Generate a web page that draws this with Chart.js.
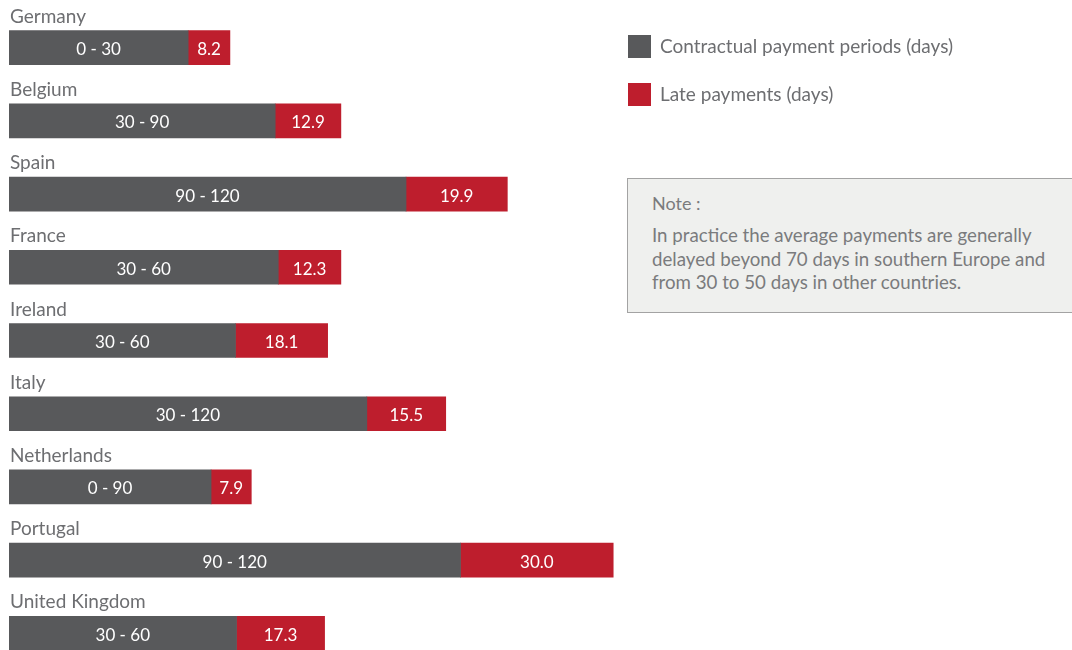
<!DOCTYPE html>
<html>
<head>
<meta charset="utf-8">
<script src="https://cdn.jsdelivr.net/npm/chart.js@4.4.1/dist/chart.umd.min.js"></script>
<style>
  html, body { margin: 0; padding: 0; background: #ffffff; overflow: hidden; }
  body { width: 1072px; height: 650px; position: relative; font-family: Lato, "Open Sans", sans-serif; }
  #wrap { position: absolute; left: 0; top: 0; width: 630px; height: 672px; }
  .legend { position: absolute; left: 628px; font-size: 19px; color: #6d6e71; }
  .legend .sw { position: absolute; left: 0; top: 0; width: 23px; height: 23px; }
  .legend .tx { position: absolute; left: 32px; top: -1px; white-space: nowrap; line-height: 23px; }
  #note { position: absolute; left: 627px; top: 178px; width: 460px; height: 135px;
          background: #eff0ee; border: 1.5px solid #a3a3a3; box-sizing: border-box;
          color: #7a7b7d; font-size: 18.7px; }
  #note .hd { position: absolute; left: 24px; top: 13px; font-size: 18px; }
  #note .bd { position: absolute; left: 24px; top: 45px; line-height: 23.5px; width: 430px; white-space: nowrap; }
</style>
</head>
<body>
<div id="wrap"><canvas id="chart"></canvas></div>

<div class="legend" style="top:35px"><div class="sw" style="background:#58595b"></div><div class="tx">Contractual payment periods (days)</div></div>
<div class="legend" style="top:83px"><div class="sw" style="background:#be1e2d"></div><div class="tx">Late payments (days)</div></div>

<div id="note">
  <div class="hd">Note :</div>
  <div class="bd">In practice the average payments are generally<br>delayed beyond 70 days in southern Europe and<br>from 30 to 50 days in other countries.</div>
</div>

<script>
// Countries, top to bottom
const countries = ["Germany", "Belgium", "Spain", "France", "Ireland", "Italy", "Netherlands", "Portugal", "United Kingdom"];
// Contractual payment period ranges (text shown inside the grey bars)
const contractLabels = ["0 - 30", "30 - 90", "90 - 120", "30 - 60", "30 - 60", "30 - 120", "0 - 90", "90 - 120", "30 - 60"];
// Length of the grey bars (days)
const contractDays = [35.2, 52.3, 78.0, 52.9, 44.5, 70.3, 39.7, 88.7, 44.7];
// Late payments (days)
const lateDays = [8.2, 12.9, 19.9, 12.3, 18.1, 15.5, 7.9, 30.0, 17.3];

const GREY = "#58595b";
const RED = "#be1e2d";
const FONT = "Lato, 'Open Sans', sans-serif";

// Writes the value text in the middle of each bar segment
const barText = {
  id: "barText",
  afterDatasetsDraw(chart) {
    const ctx = chart.ctx;
    ctx.save();
    ctx.fillStyle = "#ffffff";
    ctx.font = "17px " + FONT;
    ctx.textAlign = "center";
    ctx.textBaseline = "middle";
    chart.data.datasets.forEach((ds, di) => {
      const meta = chart.getDatasetMeta(di);
      meta.data.forEach((el, i) => {
        const txt = di === 0 ? contractLabels[i] : ds.data[i].toFixed(1);
        ctx.fillText(txt, (el.x + el.base) / 2, el.y + 2);
      });
    });
    ctx.restore();
  }
};

// Country names sit above their bars
const countryNames = {
  id: "countryNames",
  afterDatasetsDraw(chart) {
    const ctx = chart.ctx;
    const meta = chart.getDatasetMeta(0);
    ctx.save();
    ctx.fillStyle = "#6d6e71";
    ctx.font = "19px " + FONT;
    ctx.textAlign = "left";
    ctx.textBaseline = "alphabetic";
    meta.data.forEach((el, i) => {
      const top = el.y - el.height / 2;
      ctx.fillText(countries[i], chart.chartArea.left + 1, top - 8);
    });
    ctx.restore();
  }
};

new Chart(document.getElementById("chart"), {
  type: "bar",
  data: {
    labels: countries,
    datasets: [
      { label: "Contractual payment periods (days)", data: contractDays, backgroundColor: GREY, barThickness: 34 },
      { label: "Late payments (days)", data: lateDays, backgroundColor: RED, barThickness: 34 }
    ]
  },
  options: {
    indexAxis: "y",
    responsive: true,
    maintainAspectRatio: false,
    animation: false,
    layout: { padding: { left: 9, right: 0, top: 11, bottom: 2 } },
    scales: {
      x: { stacked: true, min: 0, max: 122, display: false },
      y: { stacked: true, display: false }
    },
    plugins: {
      legend: { display: false },
      tooltip: { enabled: false }
    }
  },
  plugins: [barText, countryNames]
});
</script>
</body>
</html>
